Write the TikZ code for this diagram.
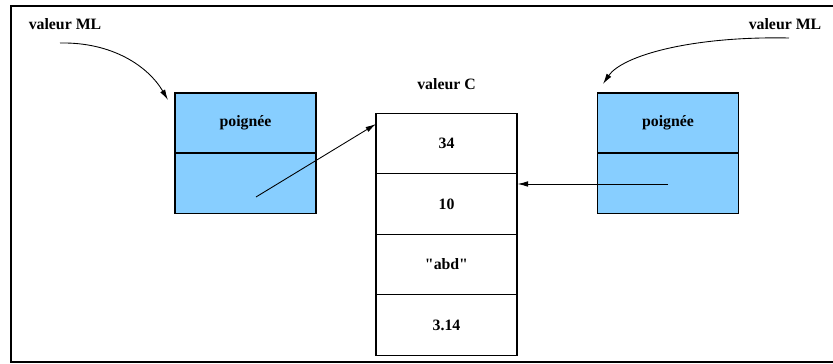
\documentclass[tikz,border=0pt]{standalone}
\usepackage{fontspec}
\setmainfont{Liberation Serif}
\usetikzlibrary{arrows.meta}

\definecolor{handleblue}{RGB}{135,206,255}

\tikzset{
  txt/.style={font=\fontsize{9}{11}\selectfont\bfseries},
  half/.style={draw, fill=handleblue, line width=0.6pt, minimum width=2.82cm, minimum height=1.2cm, inner sep=0pt, txt},
  cell/.style={draw, fill=white, line width=0.6pt, minimum width=2.82cm, minimum height=1.21cm, inner sep=0pt, txt},
  ptr/.style={-{Latex[length=6pt,width=3.2pt]}, line width=0.5pt}
}

\begin{document}
\begin{tikzpicture}[x=0.02cm,y=-0.02cm]
  \useasboundingbox (0,0) rectangle (833,364);
  \draw[line width=1.2pt] (833,6) -- (11,6) -- (11,362) -- (833,362);

  % handles on the ML side
  \node[half] (hl1) at (245.5,123) {poignée};
  \node[half] (hl2) at (245.5,183.5) {};
  \node[half] (hr1) at (668,123) {poignée};
  \node[half] (hr2) at (668,183.5) {};

  % the C block
  \node[txt] (vc) at (446.5,84) {valeur C};
  \node[cell] (c1) at (446.5,143.5) {34};
  \node[cell] (c2) at (446.5,204) {10};
  \node[cell] (c3) at (446.5,264.5) {\textquotedbl abd\textquotedbl};
  \node[cell] (c4) at (446.5,325) {3.14};

  \node[txt] (ml1) at (65,24) {valeur ML};
  \node[txt] (ml2) at (785,24) {valeur ML};

  \coordinate (s1) at (60,43);
  \coordinate (e1) at (168,100);
  \coordinate (s2) at (789,38);
  \coordinate (e2) at (603,84);
  \coordinate (pl) at (256,197);
  \coordinate (tl) at (376,124);
  \coordinate (pr) at (668,184);

  \draw[ptr] (s1) .. controls (112,42) and (148,66) .. (e1);
  \draw[ptr] (s2) .. controls (690,36) and (622,56) .. (e2);
  \draw[ptr] (pl) -- (tl);
  \draw[ptr] (pr) -- (pr -| c2.east);
\end{tikzpicture}
\end{document}
